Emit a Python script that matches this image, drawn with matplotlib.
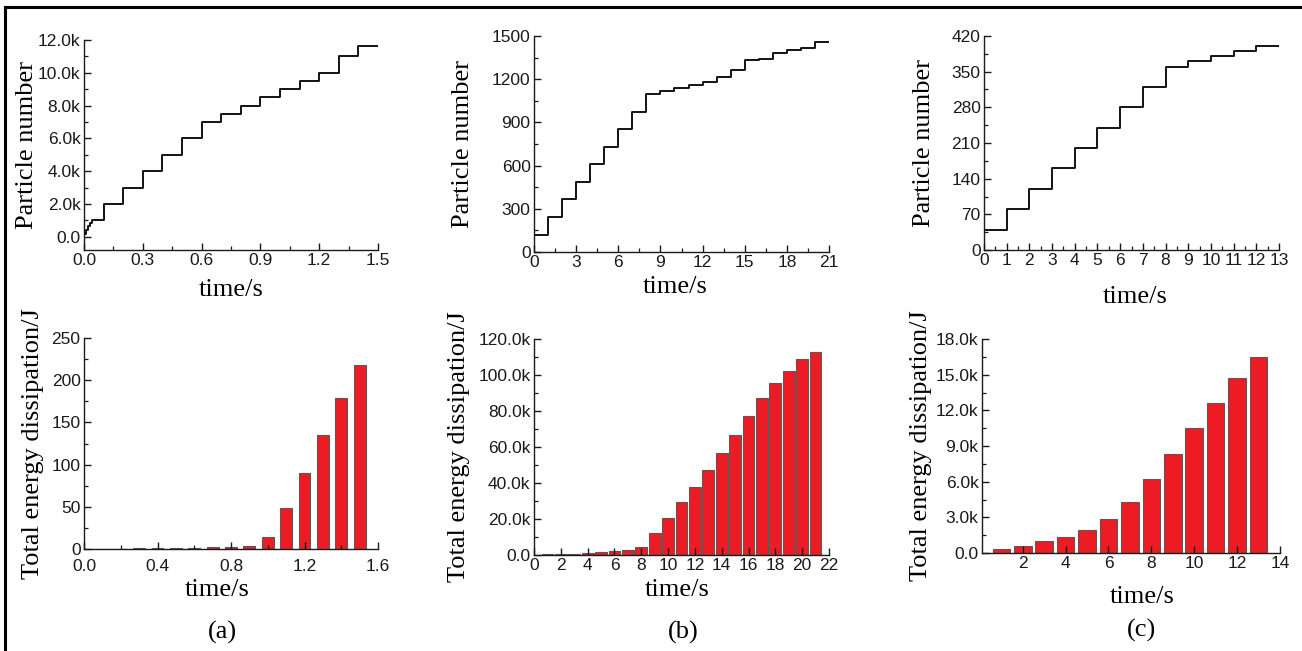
import numpy as np
import matplotlib
matplotlib.use("Agg")
import matplotlib.pyplot as plt
from matplotlib.ticker import MultipleLocator, FixedLocator, FuncFormatter
from matplotlib.lines import Line2D

# ---------------- data ----------------
# (a) particle number vs time (stepwise)
time_a = [0.0, 0.01, 0.02, 0.03, 0.04, 0.1, 0.2, 0.3, 0.4, 0.5, 0.6, 0.7, 0.8,
          0.9, 1.0, 1.1, 1.2, 1.3, 1.4, 1.5]
particles_a = [150, 400, 650, 850, 1000, 2000, 3000, 4000, 5000, 6000, 7000,
               7500, 8000, 8550, 9000, 9530, 10000, 11000, 11650, 11650]
# (b) particle number vs time
time_b = list(range(0, 22))
particles_b = [120, 243, 365, 487, 610, 730, 853, 975, 1097, 1120, 1140, 1160,
               1180, 1213, 1265, 1330, 1340, 1380, 1400, 1420, 1460, 1460]
# (c) particle number vs time
time_c = list(range(0, 14))
particles_c = [40, 80, 120, 160, 200, 240, 280, 320, 360, 370, 380, 390, 400, 400]

# total energy dissipation (J)
bar_time_a = [0.1, 0.2, 0.3, 0.4, 0.5, 0.6, 0.7, 0.8, 0.9, 1.0, 1.1, 1.2, 1.3, 1.4, 1.5]
energy_a = [0.2, 0.4, 0.7, 1.0, 1.2, 1.5, 2.0, 2.5, 3.2, 14.5, 48.5, 90, 135, 179, 218.5]
bar_time_b = list(range(1, 22))
energy_b = [300, 500, 700, 1100, 1500, 2200, 2800, 4400, 12400, 20700, 29200,
            37700, 47000, 56400, 66400, 77100, 87100, 95400, 102100, 109100, 113000]
bar_time_c = list(range(1, 14))
energy_c = [340, 620, 980, 1370, 1960, 2890, 4320, 6250, 8350, 10540, 12640,
            14750, 16510]

# ---------------- style ----------------
W, H = 1302, 651
SANS = "Liberation Sans"
SERIF = "Liberation Serif"
TICK_FS = 12.5
LABEL_FS = 19
BAR_FC = "#ED1C24"
BAR_EC = "#5a5a5a"

fig = plt.figure(figsize=(W / 100, H / 100), dpi=100)


def add_panel(x0, x1, y0, y1):
    return fig.add_axes([x0 / W, 1 - y1 / H, (x1 - x0) / W, (y1 - y0) / H])


def style(ax, x0, x1, y0, y1, ylabel, ylab_x, xlab_x, xlab_y, xpad=2.5):
    for s in ("top", "right"):
        ax.spines[s].set_visible(False)
    for s in ("left", "bottom"):
        ax.spines[s].set_linewidth(1.0)
        ax.spines[s].set_color("#1a1a1a")
    ax.tick_params(which="both", direction="in", colors="#1a1a1a",
                   labelsize=TICK_FS, pad=2.5)
    ax.tick_params(axis="x", which="both", pad=xpad)
    ax.tick_params(which="major", length=5, width=1.0)
    ax.tick_params(which="minor", length=3, width=0.9)
    for lab in ax.get_xticklabels() + ax.get_yticklabels():
        lab.set_fontfamily(SANS)
    ax.set_ylabel(ylabel, fontsize=LABEL_FS, family=SERIF, va="center")
    ax.yaxis.set_label_coords((ylab_x - x0) / (x1 - x0), 0.5)
    ax.set_xlabel("time/s", fontsize=LABEL_FS, family=SERIF, va="center")
    ax.xaxis.set_label_coords((xlab_x - x0) / (x1 - x0), (y1 - xlab_y) / (y1 - y0))


def k_fmt(v, pos):
    if abs(v) < 1e-9:
        return "0.0"
    return f"{v / 1000:.1f}k"


def one_dec(v, pos):
    return f"{v:.1f}"


# ---------------- top row: particle number ----------------
ax = add_panel(84, 378, 40, 250)
ax.step(time_a, particles_a, where="post", color="black", lw=1.3)
ax.set_xlim(0, 1.5)
ax.set_ylim(-800, 12000)
ax.xaxis.set_major_locator(MultipleLocator(0.3))
ax.xaxis.set_minor_locator(MultipleLocator(0.15))
ax.xaxis.set_major_formatter(FuncFormatter(one_dec))
ax.yaxis.set_major_locator(FixedLocator(np.arange(0, 12001, 2000)))
ax.yaxis.set_minor_locator(FixedLocator(np.arange(1000, 12000, 2000)))
ax.yaxis.set_major_formatter(FuncFormatter(k_fmt))
style(ax, 84, 378, 40, 250, "Particle number", 27, 231, 290)

ax = add_panel(534, 829, 36, 252)
ax.step(time_b, particles_b, where="post", color="black", lw=1.3)
ax.set_xlim(0, 21)
ax.set_ylim(0, 1500)
ax.xaxis.set_major_locator(MultipleLocator(3))
ax.xaxis.set_minor_locator(MultipleLocator(1.5))
ax.yaxis.set_major_locator(MultipleLocator(300))
ax.yaxis.set_minor_locator(MultipleLocator(150))
style(ax, 534, 829, 36, 252, "Particle number", 463, 675, 287)

ax = add_panel(984, 1279, 36, 250)
ax.step(time_c, particles_c, where="post", color="black", lw=1.3)
ax.set_xlim(0, 13)
ax.set_ylim(0, 420)
ax.xaxis.set_major_locator(MultipleLocator(1))
ax.xaxis.set_minor_locator(MultipleLocator(0.5))
ax.yaxis.set_major_locator(MultipleLocator(70))
ax.yaxis.set_minor_locator(MultipleLocator(35))
style(ax, 984, 1279, 36, 250, "Particle number", 924, 1135, 297)

# ---------------- bottom row: total energy dissipation ----------------
ax = add_panel(84, 378, 338, 549)
ax.bar(bar_time_a, energy_a, width=0.065, color=BAR_FC, edgecolor=BAR_EC, lw=0.8)
ax.set_xlim(0, 1.6)
ax.set_ylim(0, 250)
ax.xaxis.set_major_locator(MultipleLocator(0.4))
ax.xaxis.set_minor_locator(MultipleLocator(0.2))
ax.xaxis.set_major_formatter(FuncFormatter(one_dec))
ax.yaxis.set_major_locator(MultipleLocator(50))
ax.yaxis.set_minor_locator(MultipleLocator(25))
style(ax, 84, 378, 338, 549, "Total energy dissipation/J", 33, 217, 590, xpad=7)

ax = add_panel(534, 829, 339, 555)
ax.bar(bar_time_b, energy_b, width=0.88, color=BAR_FC, edgecolor=BAR_EC, lw=0.8)
ax.set_xlim(0, 22)
ax.set_ylim(0, 120000)
ax.xaxis.set_major_locator(MultipleLocator(2))
ax.yaxis.set_major_locator(MultipleLocator(20000))
ax.yaxis.set_minor_locator(MultipleLocator(10000))
ax.yaxis.set_major_formatter(FuncFormatter(k_fmt))
style(ax, 534, 829, 339, 555, "Total energy dissipation/J", 459, 677, 590)

ax = add_panel(982, 1280, 339, 553)
ax.bar(bar_time_c, energy_c, width=0.82, color=BAR_FC, edgecolor=BAR_EC, lw=0.8)
ax.set_xlim(0.1, 14)
ax.set_ylim(0, 18000)
ax.xaxis.set_major_locator(FixedLocator([2, 4, 6, 8, 10, 12, 14]))
ax.yaxis.set_major_locator(MultipleLocator(3000))
ax.yaxis.set_minor_locator(MultipleLocator(1500))
ax.yaxis.set_major_formatter(FuncFormatter(k_fmt))
style(ax, 982, 1280, 339, 553, "Total energy dissipation/J", 921, 1142, 597)

# ---------------- panel captions ----------------
for px, py, txt in [(222, 632, "(a)"), (683, 632, "(b)"), (1142, 630, "(c)")]:
    fig.text(px / W, 1 - py / H, txt, ha="center", va="center",
             fontsize=LABEL_FS, family=SERIF)

# ---------------- frame lines (left and top) ----------------
fig.add_artist(Line2D([5 / W, 5 / W], [0, 1 - 7 / H], transform=fig.transFigure,
                      color="black", lw=2.2, solid_capstyle="projecting"))
fig.add_artist(Line2D([5 / W, 1], [1 - 7 / H, 1 - 7 / H], transform=fig.transFigure,
                      color="black", lw=2.2, solid_capstyle="projecting"))

fig.savefig("out.png", dpi=100, facecolor="white")
